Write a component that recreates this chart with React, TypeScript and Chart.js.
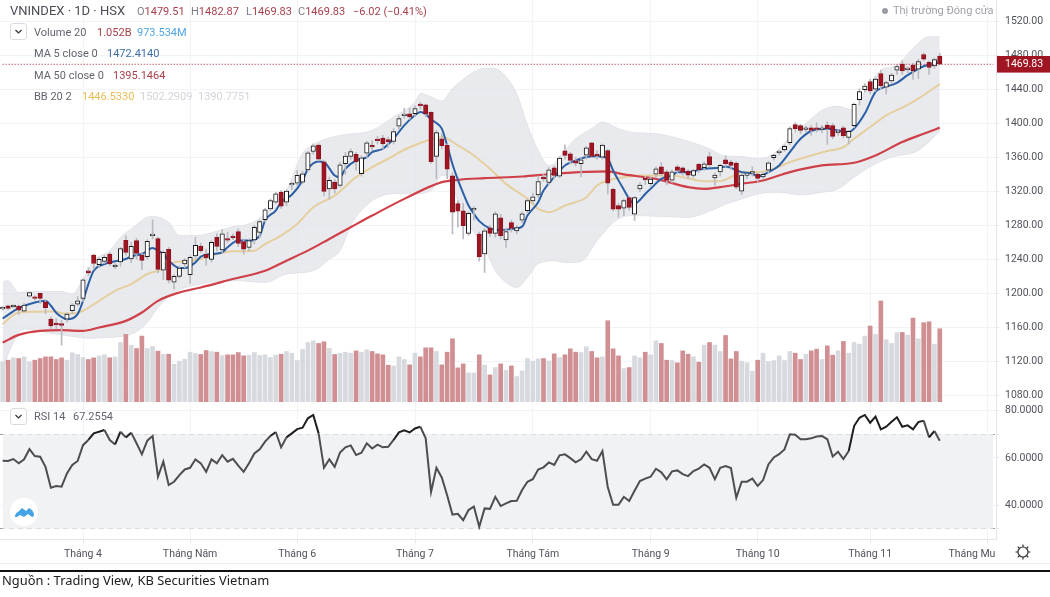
import React, { useEffect, useRef } from "react";
import { Chart, registerables } from "chart.js";

Chart.register(...registerables);

const SLOTS = 186;
const slotLabels = Array.from({ length: SLOTS }, (_, i) => String(i));

const opens = [1181.5,1185,1184,1184.8,1179,1196.6,1195.4,1199.8,1190,1169.4,1164.7,1163.2,1169.4,1179.3,1187,1194,1226.5,1245,1233.6,1237.6,1246,1231.2,1236.8,1262.4,1240.3,1262,1245,1243,1267.8,1264.4,1227.3,1251.8,1213,1219.8,1234.4,1221.8,1243.9,1255.7,1246.2,1239.9,1266,1251,1263.4,1266.4,1272.6,1260.8,1254,1262.8,1271.8,1286.8,1299.4,1307.3,1319.1,1307.3,1327.6,1329.7,1330.9,1345.4,1367,1374.6,1355,1323,1331,1327,1352.6,1361.2,1363.6,1340.8,1365.2,1373.1,1380.6,1382.9,1381,1378.9,1397,1409.2,1411.3,1411.7,1423,1422,1413.3,1361.2,1382,1374.3,1338.4,1305.7,1297,1270.6,1298.2,1269.8,1246.2,1277,1270.6,1288.8,1262.8,1283.2,1273.4,1286,1297.4,1308.8,1315.9,1336.8,1330.5,1347.9,1338,1367.9,1364.4,1356,1352.6,1362.8,1377.4,1362.8,1360.5,1368,1322.6,1303.3,1300.2,1312.8,1293.1,1323,1334.6,1329,1340.4,1349,1343,1333.3,1349,1347.9,1344,1338.8,1351.8,1347.9,1361.2,1336,1343.1,1357.3,1354.6,1353.4,1320.3,1338.8,1341.6,1340.4,1337.2,1345,1359.7,1365.6,1369.1,1377.4,1398.7,1397.5,1393.2,1395,1394,1393.2,1398.3,1397.5,1389.2,1395,1383.7,1397.5,1428.2,1440,1449.5,1440.4,1459,1442.8,1450.3,1462.9,1470,1463.4,1468.8,1464,1481.4,1472,1468,1479.51];
const closes = [1182.5,1182,1184.8,1180,1186,1200.9,1193.8,1194,1183,1161.5,1163,1162.2,1175.3,1186,1191,1215.9,1224,1235,1240,1242.3,1234.4,1232.2,1252.5,1248.2,1255.3,1247,1238.8,1261.2,1268.8,1228.1,1248.2,1215.5,1219.8,1229.7,1239.1,1242.3,1256.5,1250.2,1241.5,1260,1255.3,1269.9,1262.6,1265.6,1258.8,1251.8,1262,1277.8,1284.5,1298.2,1309.3,1317.2,1302.6,1320.3,1328.5,1339,1340.7,1365.5,1373.8,1358,1320,1333,1323,1351.4,1361.6,1366.8,1355,1359.7,1377.4,1372.3,1379.8,1376.2,1378.6,1390.4,1405.8,1410.2,1407.7,1417.6,1421,1411.3,1355,1389.2,1374,1346.3,1295.4,1296.6,1279.7,1294.3,1299,1242.7,1273.4,1270.6,1293.5,1267.9,1272.6,1276.5,1277.3,1293.5,1309.2,1313.6,1331.7,1334.8,1345.5,1338.8,1359.3,1362.4,1356.5,1353.4,1357.3,1371.5,1361.2,1362,1374.6,1329.7,1299,1299,1309.2,1301,1312.8,1327.4,1333.4,1334.5,1346.7,1340.8,1332.9,1343,1344.7,1342.3,1339.2,1344.7,1345.5,1352.6,1351.4,1339.2,1350.6,1352.6,1350.6,1325,1339.2,1339.6,1342.4,1335.2,1340,1353.8,1362.4,1366.4,1373,1394,1394,1392,1394,1392,1393.2,1394,1394,1384.9,1390,1385.7,1390.8,1422.7,1437.7,1444,1438.5,1452.3,1444.4,1448.3,1457,1467.2,1462,1464.2,1462,1473.1,1475.9,1466,1475.5,1469.83];
const highs = [1184,1186,1186,1186,1188,1201,1197,1200,1192,1172,1170,1168,1177,1188,1196,1217,1230,1246,1242,1245,1248,1235,1254,1268,1260,1265,1248,1263,1286.4,1266,1250,1254,1222,1232,1241,1244,1266,1259,1252,1262,1270,1275,1272,1270,1276,1263,1264,1280,1286,1300,1311,1319,1321,1322,1331,1345,1344,1367,1376,1376,1357,1337,1334,1354,1366,1370,1366,1362,1379,1380,1385,1386,1384,1394,1409,1418,1418,1421,1425,1423,1414,1392,1388,1376,1342,1309,1306,1296,1302,1272,1276,1280,1296,1293,1276,1286,1280,1296,1311,1318,1338,1340,1348,1350,1361,1375,1366,1360,1360,1373,1378,1368,1376,1370,1324,1306,1311,1314,1314,1330,1338,1337,1349,1354,1345,1345,1351,1349,1346,1346,1353,1355,1366.4,1342,1352,1362,1357,1355,1341,1341,1349,1342,1342,1355,1364,1368,1375,1396,1401,1399,1397,1398,1401,1398,1402,1400,1393,1397,1392,1424,1441,1447,1452,1454,1463,1450,1459,1469,1474,1467,1471,1476,1483,1474,1477,1482.87];
const lows = [1180,1181,1183,1175,1178,1195,1192,1188,1176,1158,1158,1138.7,1166,1176,1185,1190,1221,1228,1230,1235,1232,1229,1232,1245,1236,1240,1228,1240,1264,1224,1216,1212,1205,1218,1230,1212,1241,1248,1233,1237,1250,1248,1260,1263,1255,1246,1250,1258,1265,1284,1298,1306,1300,1303,1322,1327,1329,1344,1364,1356,1315,1311,1318,1325,1340,1358,1345,1338,1360,1368,1376,1370,1372,1376,1393,1406,1405,1408,1417,1408,1353,1334.8,1370,1335,1269.8,1278,1264,1268,1286,1238,1224.5,1267,1266,1264,1254,1272,1270,1283,1295,1306,1313,1332,1328,1335,1336,1358,1352,1350,1337,1358,1360,1358,1358,1317,1297,1289.6,1291.5,1298,1285.6,1320,1328,1326,1336,1338,1328,1330,1341,1339,1335,1336,1342,1345,1349,1327,1338,1349,1346,1323,1316.3,1335,1338,1331,1335,1342,1357,1363,1367,1375,1390,1388,1390,1386,1390,1389,1375.5,1382,1386,1383,1376,1395,1422,1437,1435,1438,1440,1435,1448,1458,1458,1460,1452,1453,1474,1458,1465,1469.83];
const volumes = [.576,.6,.634,.624,.648,.576,.6,.624,.648,.648,.61,.634,.6,.706,.682,.638,.61,.634,.662,.677,.634,.648,.854,.97,.816,.768,.946,.768,.797,.73,.686,.686,.542,.586,.614,.715,.696,.682,.739,.725,.715,.667,.677,.677,.71,.662,.672,.71,.667,.677,.638,.672,.686,.725,.701,.595,.754,.854,.878,.84,.864,.768,.682,.696,.715,.701,.734,.715,.749,.725,.691,.677,.528,.518,.648,.61,.533,.701,.648,.778,.778,.725,.533,.715,.907,.49,.547,.418,.418,.677,.528,.389,.494,.547,.456,.518,.365,.446,.624,.586,.619,.624,.59,.691,.638,.677,.763,.715,.71,.792,.725,.634,.648,1.166,.763,.662,.48,.494,.662,.634,.715,.677,.878,.84,.6,.595,.562,.734,.686,.648,.571,.816,.854,.816,.725,.955,.619,.725,.586,.562,.442,.6,.701,.581,.595,.662,.595,.725,.701,.61,.686,.734,.758,.61,.806,.672,.734,.869,.701,.854,.83,.946,1.09,.97,1.45,.893,.84,.994,.998,.96,1.205,.907,1.138,1.152,.83,1.051];
const rsi = [58.8,58.7,59.5,57.7,59.4,63.7,60.8,60.5,56.2,47.4,48.1,47.8,53.4,57,58.7,65.4,67.6,70.4,71.1,71.8,67.6,65.7,71.1,68.7,70.7,66.2,61.5,67.3,69.3,52,58.4,48.5,49.9,52.7,55.1,55.8,59.4,57.7,54.1,59.4,57.7,61.2,58.4,59.6,56.7,54.1,57.7,61.9,63.6,66.9,69.3,71,64.5,68.7,70.4,72.2,72.8,76.8,78.2,70.4,55.8,59.4,56.2,62.3,64.5,65.3,61.2,62.2,66.2,64,65.6,64.5,64.7,67.6,70.8,71.7,70.8,72.5,73.2,68.3,45.6,55.8,51.7,44.2,36,36.3,33.6,37.9,39.4,30.8,38.6,38.4,43.5,39.6,40.7,41.7,41.8,46.4,49.9,51,55.1,56,58.1,57,61.1,61.5,59.9,58.1,59.4,62.6,59.5,58.8,62.9,47.5,40.1,40.1,43.5,41.7,46.1,50.2,51.2,52,55.4,53.9,50.9,54.3,54.7,53.1,52.3,54.4,55.5,57.2,55.8,51,55.8,56.5,55.7,43.1,49.9,49.9,51.2,48.1,50.6,57.2,60.2,61.6,63.6,70,69.8,67.9,67.9,68.3,69.1,69.3,67.9,60.6,62.6,59.5,62.9,73.5,77,78.2,74.9,77.5,72.1,73.2,75.3,77.2,73.2,73.8,72.1,75.2,75.8,68.7,71.4,67.26];

const ma5Days = [0,3,6,8,9,10,11,12,14,15,16,17,19,21,23,24,26,28,29,30,31,33,34,36,37,39,41,42,44,46,48,49,51,52,54,56,57,59,60,62,63,64,66,68,69,71,73,75,77,78,79,80,81,82,83,84,85,86,87,88,89,91,93,95,97,98,100,101,103,105,107,109,111,113,114,115,116,117,118,119,120,121,123,125,126,128,131,134,135,137,138,140,141,143,145,147,149,151,154,156,158,159,161,163,164,167,169,172,174,175];
const ma5Values = [1170.2,1182.4,1189.1,1191,1185.2,1177,1172,1169.4,1175.3,1191,1210.8,1226.5,1234.4,1237.6,1240.3,1243.5,1246.2,1253.3,1250.2,1246.2,1238.4,1229.7,1229.7,1236.4,1243.1,1246.2,1248.2,1254.1,1262,1262,1267.9,1285.6,1297.5,1307.3,1316,1332.8,1346.6,1355.3,1354.5,1338.8,1336.8,1346.6,1356.5,1360.5,1366.4,1370.3,1382.1,1397.9,1409.7,1413.6,1411,1405,1400.6,1394,1374.3,1352,1334,1318,1303.3,1293.5,1285,1276.5,1274.6,1275.7,1278.5,1291.5,1307.3,1321,1336.8,1350.6,1356.5,1360.5,1361.3,1358.5,1344.7,1333,1322,1311.2,1305.3,1310,1317,1323,1334.8,1338.8,1342.7,1342.7,1346.7,1347.9,1349.4,1345,1342.7,1340.8,1337.6,1342.7,1350.6,1366.4,1382,1391.2,1394,1392,1390,1394,1411.7,1437.3,1441.2,1448,1457,1467.5,1470.5,1472.41];
const ma20Days = [0,2,3,6,8,10,11,13,15,18,21,24,27,30,32,34,37,40,43,47,49,52,55,58,62,66,69,72,75,78,82,85,88,91,94,98,100,102,105,109,111,113,116,119,125,128,131,134,136,138,141,144,147,151,154,157,159,162,165,168,171,175];
const ma20Values = [1163.5,1174.5,1177.3,1178.1,1178.5,1178.5,1176.5,1176.1,1179.3,1191,1202.9,1210.8,1222.6,1228.5,1236.4,1237.6,1240.3,1246.2,1249.4,1250.2,1258,1267.9,1281.7,1301.4,1315,1336.8,1348.6,1358.5,1369.1,1377,1384.1,1374.3,1362.4,1346.7,1328.9,1311.2,1299.4,1295.4,1303.3,1313.2,1327,1332.9,1336.8,1338.8,1338.8,1335.5,1332.1,1332.1,1336.8,1342.7,1342.7,1346.7,1354.5,1362.4,1367.6,1372.3,1382.1,1395.9,1409.7,1418.8,1429.4,1446.53];
const ma50Days = [0,3,7,11,15,18,23,26,29,33,37,43,49,53,57,61,65,69,75,82,85,90,97,103,113,116,122,128,131,134,138,142,147,153,159,163,168,172,175];
const ma50Values = [1141.8,1150.9,1155.6,1156.4,1155.6,1159.6,1167.4,1177.3,1191,1200.9,1206.8,1216.7,1226.5,1238.4,1250.2,1264,1277.8,1291.5,1311.2,1330.9,1333.7,1335.6,1337.6,1340.8,1343.5,1340,1334.8,1325,1323,1325,1329,1332.9,1342.7,1350.6,1353.8,1362.4,1378.2,1388,1395.15];
const upperDays = [0,1,3,6,11,13,15,17,20,22,24,27,28,31,33,36,40,43,46,49,51,53,54,55,56,58,60,63,69,73,77,78,80,82,84,87,88,90,92,94,96,98,100,102,103,105,107,110,112,115,118,122,128,132,135,138,141,144,147,150,153,156,159,161,164,167,170,173,175];
const upperValues = [1213.9,1214.7,1200.9,1202,1202.1,1199,1216.7,1238.4,1250.2,1266,1275.8,1289.6,1290.4,1283.7,1267.9,1267.9,1273,1278.5,1281.7,1293.5,1309.3,1321,1335,1352,1365,1375,1381,1386,1392,1407.7,1425.5,1435.3,1431.4,1426.6,1441.2,1457,1460.9,1465,1464.5,1455,1435,1398,1368.3,1350.6,1352.6,1368.3,1382.1,1394,1401.8,1394,1389.2,1388,1379,1370.3,1361.6,1361.2,1358.5,1364.4,1384.1,1399.9,1415.6,1420.3,1415.6,1437.3,1462.9,1468.8,1488.5,1502.3,1502.29];
const lowerDays = [0,1,2,3,4,8,12,16,19,24,27,29,32,37,43,49,53,58,61,63,65,66,69,71,73,76,80,82,83,85,87,90,92,94,96,98,100,103,105,108,111,115,118,128,132,135,138,141,145,149,153,156,159,163,166,171,175];
const lowerValues = [1108,1128,1142,1153.6,1158,1154,1150,1147,1147.7,1151.7,1165.5,1183.2,1200.9,1210.8,1215,1212.8,1222.6,1226.5,1240,1250,1280,1290,1309.2,1315.2,1317.5,1317,1321,1338.8,1338.8,1309.2,1282,1253.7,1226.5,1212.7,1206.8,1218.6,1234.8,1238.3,1236.3,1237.5,1262,1288,1291.5,1289.5,1296.6,1305,1311,1317,1319,1316,1319,1323,1336.8,1352.6,1360.5,1368.3,1390.78];

const priceTicks = [1080,1120,1160,1200,1240,1280,1320,1360,1400,1440,1480,1520];
const rsiTicks = [80,70,60,40,30];
const rsiLabelled = [80,60,40];
const lastClose = 1469.83;
const rsiUpper = 70;
const rsiLower = 30;
const monthDays = [15,35,55,77,99,121,141,162,181,184];
const monthNames = ["Tháng 4","Tháng Năm","Tháng 6","Tháng 7","Tháng Tám","Tháng 9","Tháng 10","Tháng 11","Tháng Mu",""];
const labelOnlyDay = 181;

const FONT = "Roboto, sans-serif";
const GRID = "#f1f3f6";
const AXIS = "#e3e5ea";
const TICK_TEXT = "#50535c";
const RED = "#a01522";
const RED_EDGE = "#8c1320";
const VOL_RED = "#d08f92";
const VOL_GREY = "#d6d9dd";
const BAND = "rgba(224,226,231,0.72)";

const sparse = (days: number[], vals: number[]) => {
  const a: (number | null)[] = Array(176).fill(null);
  days.forEach((d, k) => { a[d] = vals[k]; });
  return a;
};
const isDown = (i: number) => closes[i] < opens[i];

const lineStyle = { type: "line" as const, yAxisID: "y", pointRadius: 0, spanGaps: true, cubicInterpolationMode: "monotone" as const };
const fixPad = (s: any) => { s.paddingTop = 0; s.paddingBottom = 0; s.paddingLeft = 0; s.paddingRight = 0; };

const xAxis = (showLabels: boolean, height: number) => ({
  type: "category" as const,
  offset: true,
  afterBuildTicks: (s: any) => { s.ticks = monthDays.map((value) => ({ value })); },
  afterFit: (s: any) => { fixPad(s); s.height = height; },
  grid: {
    offset: false,
    tickLength: showLabels ? 4 : 0,
    color: (c: any) => (c.tick && c.tick.value === labelOnlyDay ? "transparent" : GRID),
    tickColor: (c: any) => (c.tick && c.tick.value === labelOnlyDay ? "transparent" : AXIS),
  },
  border: { color: AXIS },
  ticks: {
    display: showLabels,
    autoSkip: false,
    maxRotation: 0,
    padding: 5,
    color: TICK_TEXT,
    font: { family: FONT, size: 10.5 },
    callback: (v: any) => monthNames[monthDays.indexOf(Number(v))] ?? "",
  },
});

const yRight = (min: number, max: number, list: number[], extra: any) => ({
  position: "right" as const,
  min,
  max,
  afterBuildTicks: (s: any) => { s.ticks = list.map((value) => ({ value })); },
  afterFit: (s: any) => { fixPad(s); s.width = 54; },
  ...extra,
});

const T = (p: { x: number; y: number; c?: string; s?: number; children: React.ReactNode }) => (
  <span style={{ position: "absolute", left: p.x, top: p.y, color: p.c ?? "#62656f", fontSize: p.s ?? 11, lineHeight: "14px", whiteSpace: "nowrap", fontFamily: FONT }}>{p.children}</span>
);
const Chevron = ({ y }: { y: number }) => (
  <div style={{ position: "absolute", left: 10, top: y, width: 17, height: 17, boxSizing: "border-box", border: "1px solid #d9dbe0", borderRadius: 3, background: "#fff" }}>
    <svg width="15" height="15"><path d="M4.5 6 L7.5 9 L10.5 6" stroke="#333" strokeWidth="1.2" fill="none" /></svg>
  </div>
);

export default function App() {
  const topRef = useRef<HTMLCanvasElement>(null);
  const botRef = useRef<HTMLCanvasElement>(null);

  useEffect(() => {
    document.body.style.margin = "0";
    const common = { responsive: false, animation: false as const, devicePixelRatio: 1, layout: { padding: 0 }, events: [] as any[], plugins: { legend: { display: false }, tooltip: { enabled: false } } };
    const idx = closes.map((_, i) => i);
    const top = new Chart(topRef.current!, {
      data: {
        labels: slotLabels,
        datasets: [
          { type: "line", yAxisID: "y", data: slotLabels.map(() => lastClose), borderColor: "#a5182a", borderWidth: 1, borderDash: [1, 2], pointRadius: 0, order: 0 } as any,
          { type: "bar", yAxisID: "y", data: idx.map((i) => [opens[i], closes[i]]), grouped: false, barThickness: 4.4, minBarLength: 1.6, borderSkipped: false, borderWidth: 1, backgroundColor: idx.map((i) => (isDown(i) ? RED : "#ffffff")), borderColor: idx.map((i) => (isDown(i) ? RED_EDGE : "#1a1a1a")), order: 1 },
          { type: "bar", yAxisID: "y", data: idx.map((i) => [lows[i], highs[i]]), grouped: false, barThickness: 1, borderWidth: 0, backgroundColor: "#b9bbc0", order: 2 },
          { ...lineStyle, data: sparse(ma5Days, ma5Values), borderColor: "#2b5fa6", borderWidth: 2, order: 3 },
          { ...lineStyle, data: sparse(ma50Days, ma50Values), borderColor: "#cf4049", borderWidth: 2.2, order: 4 },
          { ...lineStyle, data: sparse(ma20Days, ma20Values), borderColor: "#e6cf9f", borderWidth: 2, order: 5 },
          { type: "bar", yAxisID: "yv", data: volumes, grouped: false, barThickness: 4, borderWidth: 0, backgroundColor: idx.map((i) => (isDown(i) ? VOL_RED : VOL_GREY)), order: 6 },
          { ...lineStyle, data: sparse(upperDays, upperValues), borderColor: "#e2e3e8", borderWidth: 1, backgroundColor: BAND, fill: "+1", order: 7 },
          { ...lineStyle, data: sparse(lowerDays, lowerValues), borderColor: "#e2e3e8", borderWidth: 1, order: 8 },
        ] as any,
      },
      options: {
        ...common,
        scales: {
          x: xAxis(false, 0) as any,
          y: yRight(1071.8, 1545.6, [...priceTicks, lastClose], {
            grid: { color: (c: any) => (c.tick && c.tick.value === lastClose ? "transparent" : GRID), tickLength: 3, tickColor: AXIS },
            border: { color: AXIS },
            ticks: {
              autoSkip: false,
              padding: 6,
              font: { family: FONT, size: 10.5 },
              color: (c: any) => (c.tick && c.tick.value === lastClose ? "#ffffff" : TICK_TEXT),
              showLabelBackdrop: (c: any) => !!(c.tick && c.tick.value === lastClose),
              backdropColor: RED,
              backdropPadding: { left: 8, right: 8, top: 2, bottom: 2 },
              callback: (v: any) => Number(v).toFixed(2),
            },
          }) as any,
          yv: { display: false, min: 0, max: 5.77 },
        },
      } as any,
    });
    const bot = new Chart(botRef.current!, {
      data: {
        labels: slotLabels,
        datasets: [
          { type: "line", data: rsi, borderColor: "#4a4a4e", borderWidth: 2, pointRadius: 0, order: 1, segment: { borderColor: (c: any) => (c.p1.parsed.y > rsiUpper ? "#1f1f22" : "#4d4d52") } },
          { type: "line", data: slotLabels.map(() => rsiUpper), borderWidth: 0, pointRadius: 0, backgroundColor: "#f1f2f4", fill: { value: rsiLower }, order: 2 },
        ] as any,
      },
      options: {
        ...common,
        scales: {
          x: xAxis(true, 24.7) as any,
          y: yRight(25.5, 83.7, rsiTicks, {
            grid: {
              color: (c: any) => (c.tick && rsiLabelled.includes(c.tick.value) ? GRID : "#9b9da2"),
              tickLength: 3,
              tickColor: AXIS,
            },
            border: { color: AXIS, dash: (c: any) => (c.tick && rsiLabelled.includes(c.tick.value) ? [] : [5, 4]) },
            ticks: {
              autoSkip: false,
              padding: 6,
              font: { family: FONT, size: 10.5 },
              color: TICK_TEXT,
              callback: (v: any) => (rsiLabelled.includes(Number(v)) ? Number(v).toFixed(4) : ""),
            },
          }) as any,
        },
      } as any,
    });
    return () => { top.destroy(); bot.destroy(); };
  }, []);

  const val = "#a8404a";
  return (
    <div style={{ position: "absolute", left: 0, top: 0, width: 1050, height: 597, background: "#fff", overflow: "hidden", fontFamily: FONT }}>
      <canvas ref={topRef} width={1050} height={402} style={{ position: "absolute", left: 0, top: 0 }} />
      <canvas ref={botRef} width={1050} height={162} style={{ position: "absolute", left: 0, top: 402 }} />

      <T x={10} y={4} s={13} c="#4a4c55">VNINDEX · 1D · HSX</T>
      <T x={137} y={5}><span style={{ color: "#7b7e88" }}>O</span><span style={{ color: val }}>1479.51</span></T>
      <T x={191} y={5}><span style={{ color: "#7b7e88" }}>H</span><span style={{ color: val }}>1482.87</span></T>
      <T x={246} y={5}><span style={{ color: "#7b7e88" }}>L</span><span style={{ color: val }}>1469.83</span></T>
      <T x={298} y={5}><span style={{ color: "#7b7e88" }}>C</span><span style={{ color: val }}>1469.83</span></T>
      <T x={353} y={5} c={val}>−6.02 (−0.41%)</T>

      <Chevron y={23} />
      <T x={34} y={26}>Volume 20</T>
      <T x={97} y={26} c={val}>1.052B</T>
      <T x={137} y={26} c="#4ea5e4">973.534M</T>
      <T x={34} y={47}>MA 5 close 0</T>
      <T x={107} y={47} c="#3f6ea8">1472.4140</T>
      <T x={34} y={69}>MA 50 close 0</T>
      <T x={113} y={69} c={val}>1395.1464</T>
      <T x={34} y={90}>BB 20 2</T>
      <T x={82} y={90} c="#eabd55">1446.5330</T>
      <T x={140} y={90} c="#d3d5da">1502.2909</T>
      <T x={198} y={90} c="#d3d5da">1390.7751</T>

      <div style={{ position: "absolute", left: 882, top: 8, width: 6, height: 6, borderRadius: 3, background: "#9a9ca3" }} />
      <T x={893} y={4} c="#9fa1a8">Thị trường Đóng cửa</T>

      <Chevron y={408} />
      <T x={34} y={410}>RSI 14</T>
      <T x={73} y={410}>67.2554</T>

      <svg width="32" height="32" style={{ position: "absolute", left: 8, top: 496 }}>
        <circle cx="16" cy="16" r="15" fill="#fff" stroke="#eceef1" />
        <path d="M7 21 Q7 17 10 16 L14 12 L18 15 L21 12 Q25 14 26 18 Q26 21 24 21 L20 18 L16 21 L12 19 L9 21 Z" fill="#45a4e6" />
      </svg>
      <svg width="18" height="18" style={{ position: "absolute", left: 1014, top: 543 }}>
        <circle cx="9" cy="9" r="5" fill="none" stroke="#333" strokeWidth="1.2" />
        <path d="M9 1.5V4M9 14V16.5M1.5 9H4M14 9H16.5M3.7 3.7L5.4 5.4M12.6 12.6L14.3 14.3M3.7 14.3L5.4 12.6M12.6 5.4L14.3 3.7" stroke="#333" strokeWidth="1.2" />
      </svg>

      <div style={{ position: "absolute", left: 0, top: 563, width: 1050, height: 1, background: "#eceef1" }} />
      <div style={{ position: "absolute", left: 0, top: 570, width: 1050, height: 1.5, background: "#111" }} />
      <span style={{ position: "absolute", left: 2, top: 571, fontFamily: "'Noto Sans', sans-serif", fontSize: 12.9, lineHeight: "18px", color: "#222", whiteSpace: "nowrap" }}>Nguồn : Trading View, KB Securities Vietnam</span>
    </div>
  );
}
